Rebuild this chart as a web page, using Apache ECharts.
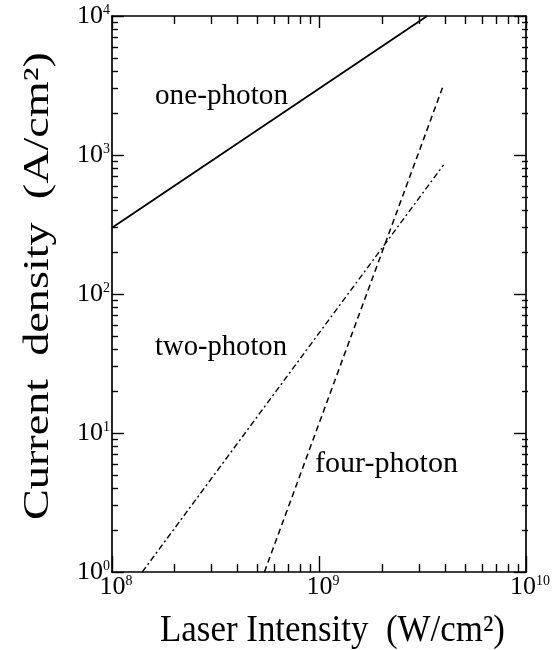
<!DOCTYPE html>
<html><head><meta charset="utf-8">
<script src="https://cdn.jsdelivr.net/npm/echarts@6/dist/echarts.min.js"></script>
<style>html,body{margin:0;padding:0;background:#fff}#c{width:553px;height:650px}</style>
</head><body><div id="c"></div>
<script>
// ---- data ----
const onePhotonX = [1e8, 3.33e9];
const onePhotonY = [300, 10000];
const twoPhotonX = [1.4e8, 4.0e9];
const twoPhotonY = [1, 850];
const fourPhotonX = [5.45e8, 3.95e9];
const fourPhotonY = [1, 3050];
const seriesNames = ['one-photon', 'two-photon', 'four-photon'];
const xMajorTicks = [1e8, 1e9, 1e10];
const xMinorTicks = [2e8, 3e8, 4e8, 5e8, 6e8, 7e8, 8e8, 9e8, 2e9, 3e9, 4e9, 5e9, 6e9, 7e9, 8e9, 9e9];
const yMajorTicks = [1, 10, 100, 1000, 10000];
const yMinorTicks = [2, 3, 4, 5, 6, 7, 8, 9, 20, 30, 40, 50, 60, 70, 80, 90, 200, 300, 400, 500, 600, 700, 800, 900, 2000, 3000, 4000, 5000, 6000, 7000, 8000, 9000];
const xTitle = 'Laser Intensity  (W/cm\u00b2)';
const yTitle = 'Current  density  (A/cm\u00b2)';

const FONT = '"Liberation Serif", "DejaVu Serif", serif';
const mctx = document.createElement('canvas').getContext('2d');
function fit(text, size, targetW) {
  mctx.font = size + 'px ' + FONT;
  return targetW / mctx.measureText(text).width;
}
const pairs = (xs, ys) => xs.map((x, i) => [x, ys[i]]);

const gridRect = { left: 112, right: 25, top: 16, bottom: 78 };
const axisLine = { show: true, onZero: false, lineStyle: { color: '#000', width: 1.7 } };
const tickStyle = { color: '#000', width: 1.4 };
const expFmt = v => '{b|10}{s|' + Math.round(Math.log10(v)) + '}';
const richX = {
  b: { fontFamily: FONT, fontSize: 26, color: '#000', padding: [0, 0, 0, 8] },
  s: { fontFamily: FONT, fontSize: 14, color: '#000', verticalAlign: 'top' }
};
const richY = {
  b: { fontFamily: FONT, fontSize: 26, color: '#000' },
  s: { fontFamily: FONT, fontSize: 14, color: '#000', verticalAlign: 'top' }
};

function xAx(grid, pos, ticks, len, labels) {
  return {
    type: 'log', logBase: 10, min: 1e8, max: 1e10, gridIndex: grid, position: pos,
    axisLine: grid === 0 ? axisLine : { show: false },
    axisTick: { show: true, inside: true, length: len, customValues: ticks, lineStyle: tickStyle },
    axisLabel: labels ? { show: true, customValues: xMajorTicks, formatter: expFmt, rich: richX, margin: 2 } : { show: false },
    splitLine: { show: false }, minorTick: { show: false }
  };
}
function yAx(grid, pos, ticks, len, labels) {
  return {
    type: 'log', logBase: 10, min: 1, max: 10000, gridIndex: grid, position: pos,
    axisLine: grid === 0 ? axisLine : { show: false },
    axisTick: { show: true, inside: true, length: len, customValues: ticks, lineStyle: tickStyle },
    axisLabel: labels ? { show: true, customValues: yMajorTicks, formatter: expFmt, rich: richY, margin: 2 } : { show: false },
    splitLine: { show: false }, minorTick: { show: false }
  };
}

const chart = echarts.init(document.getElementById('c'), null, { renderer: 'canvas' });
const lineS = (name, data, style) => ({
  name, type: 'line', xAxisIndex: 0, yAxisIndex: 0, data, symbol: 'none',
  lineStyle: Object.assign({ color: '#000', width: 1.6 }, style), clip: true, silent: true
});

const s1 = fit(seriesNames[0], 29, 133);
const s2 = fit(seriesNames[1], 29, 132);
const s3 = fit(seriesNames[2], 29, 143);
const sx = fit(xTitle, 38, 345);
const sy = fit(yTitle, 36, 468);

chart.setOption({
  animation: false,
  backgroundColor: '#fff',
  grid: [Object.assign({}, gridRect), Object.assign({}, gridRect)],
  xAxis: [
    xAx(0, 'bottom', xMajorTicks, 16, true),
    xAx(0, 'top', xMajorTicks, 12, false),
    xAx(1, 'bottom', xMinorTicks, 8, false),
    xAx(1, 'top', xMinorTicks, 8, false)
  ],
  yAxis: [
    yAx(0, 'left', yMajorTicks, 12, true),
    yAx(0, 'right', yMajorTicks, 12, false),
    yAx(1, 'left', yMinorTicks, 6, false),
    yAx(1, 'right', yMinorTicks, 6, false)
  ],
  series: [
    lineS(seriesNames[0], pairs(onePhotonX, onePhotonY), { type: 'solid', width: 1.8 }),
    lineS(seriesNames[1], pairs(twoPhotonX, twoPhotonY), { type: [6, 3, 2, 3], width: 1.4 }),
    lineS(seriesNames[2], pairs(fourPhotonX, fourPhotonY), { type: [6, 4], width: 1.5 })
  ],
  graphic: [
    { type: 'text', x: 221.5, y: 96, scaleX: s1, style: { text: seriesNames[0], font: '29px ' + FONT, fill: '#000', textAlign: 'center', textVerticalAlign: 'middle' } },
    { type: 'text', x: 221, y: 347, scaleX: s2, style: { text: seriesNames[1], font: '29px ' + FONT, fill: '#000', textAlign: 'center', textVerticalAlign: 'middle' } },
    { type: 'text', x: 386.5, y: 464, scaleX: s3, style: { text: seriesNames[2], font: '29px ' + FONT, fill: '#000', textAlign: 'center', textVerticalAlign: 'middle' } },
    { type: 'text', x: 332.5, y: 631, scaleX: sx, style: { text: xTitle, font: '38px ' + FONT, fill: '#000', textAlign: 'center', textVerticalAlign: 'middle' } },
    { type: 'text', x: 38.5, y: 286, rotation: Math.PI / 2, scaleX: sy, style: { text: yTitle, font: '36px ' + FONT, fill: '#000', textAlign: 'center', textVerticalAlign: 'middle' } }
  ]
});
</script>
</body></html>
